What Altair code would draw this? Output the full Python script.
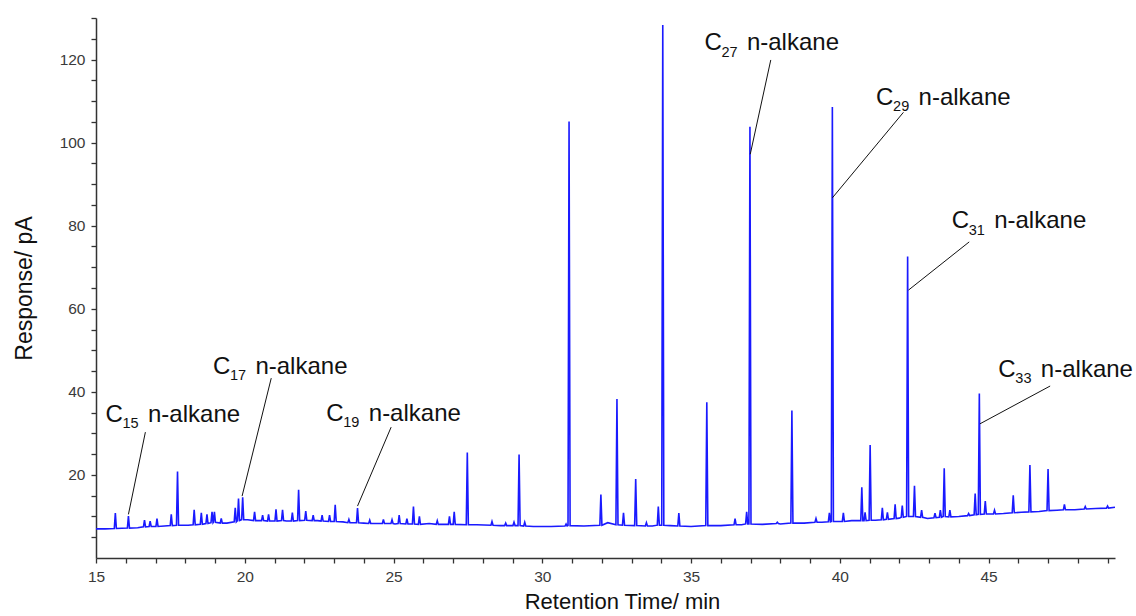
import altair as alt
import pandas as pd
import numpy as np

# ---- peaks (time / min, apex / pA, foot / pA)
peak_time = [15.65, 16.09, 16.63, 16.82, 17.05, 17.53, 17.74, 18.30, 18.54, 18.73,
             18.90, 18.98, 19.21, 19.68, 19.79, 19.93, 20.33, 20.60, 20.80, 21.05,
             21.27, 21.60, 21.81, 22.05, 22.30, 22.60, 22.85, 23.04, 23.50, 23.79,
             24.20, 24.66, 24.95, 25.19, 25.45, 25.67, 25.87, 26.47, 26.88, 27.04,
             27.48, 28.31, 28.77, 29.05, 29.22, 29.41, 30.80, 30.90, 31.97, 32.51,
             32.73, 33.14, 33.50, 33.90, 34.05, 34.59, 35.53, 36.48, 36.87, 36.98,
             37.90, 38.39, 39.20, 39.65, 39.75, 40.12, 40.74, 40.85, 41.02, 41.43,
             41.60, 41.86, 42.10, 42.28, 42.51, 42.75, 43.20, 43.38, 43.51, 43.70,
             44.33, 44.55, 44.69, 44.89, 45.20, 45.83, 46.39, 47.00, 47.55, 48.25,
             49.00]
peak_height = [10.8, 10.1, 9.1, 8.9, 9.5, 10.5, 20.8, 11.6, 10.9, 10.5,
               11.1, 11.1, 9.5, 12.1, 14.3, 14.6, 11.1, 10.3, 10.5, 11.7,
               11.6, 10.9, 16.4, 11.3, 10.3, 10.3, 10.3, 12.8, 9.3, 12.0,
               9.1, 9.3, 9.2, 10.3, 9.5, 12.4, 10.0, 9.0, 10.0, 11.1,
               25.4, 8.8, 8.4, 8.6, 24.9, 8.6, 8.2, 105.1, 15.3, 38.3,
               10.9, 19.0, 8.5, 12.4, 128.3, 10.8, 37.5, 9.5, 11.1, 103.8,
               8.6, 35.5, 9.5, 10.9, 108.6, 10.9, 17.0, 11.0, 27.2, 12.1,
               11.0, 12.9, 12.6, 72.6, 17.4, 11.5, 10.8, 11.5, 21.6, 11.5,
               10.7, 15.5, 39.6, 13.7, 11.5, 15.1, 22.4, 21.4, 12.9, 12.4,
               12.5]
peak_foot = [7.1, 7.2, 7.5, 7.6, 7.6, 7.8, 7.9, 8.0, 8.1, 8.3,
             8.5, 8.6, 8.4, 8.7, 9.0, 9.2, 9.0, 9.0, 8.9, 8.9,
             9.0, 8.9, 9.0, 9.1, 9.0, 8.9, 8.8, 8.8, 8.5, 8.5,
             8.3, 8.3, 8.3, 8.3, 8.2, 8.2, 8.1, 8.1, 8.1, 8.1,
             8.0, 7.9, 7.8, 7.8, 7.8, 7.7, 7.7, 7.8, 7.9, 8.0,
             7.9, 7.8, 7.7, 7.9, 7.9, 7.7, 7.8, 8.0, 8.2, 8.2,
             8.3, 8.4, 8.6, 8.7, 8.8, 8.8, 9.0, 9.0, 9.1, 9.2,
             9.3, 9.5, 9.8, 10.0, 10.0, 9.8, 9.7, 9.8, 10.0, 9.9,
             10.2, 10.4, 10.5, 10.6, 10.6, 10.9, 11.1, 11.4, 11.6, 11.8,
             12.0]

# ---- baseline between peaks
base_time = [15.0, 15.3, 16.4, 17.3, 18.1, 19.4, 20.1, 20.45, 21.4, 22.45,
             23.3, 24.0, 24.4, 25.05, 26.2, 27.8, 28.6, 29.7, 30.3, 31.4,
             32.2, 33.7, 34.3, 35.0, 36.0, 36.7, 37.4, 38.0, 38.8, 39.4,
             40.4, 41.2, 42.0, 42.95, 44.0, 45.5, 46.1, 46.7, 47.3, 47.9,
             48.6, 49.25]
base_value = [7.0, 7.0, 7.3, 7.7, 7.9, 8.4, 9.2, 9.0, 8.9, 9.0,
              8.7, 8.4, 8.3, 8.2, 8.3, 8.0, 7.8, 7.6, 7.6, 7.7,
              8.5, 7.7, 7.8, 7.6, 7.8, 8.0, 8.1, 8.2, 8.4, 8.6,
              9.0, 9.1, 9.6, 9.5, 10.0, 10.7, 11.0, 11.2, 11.5, 11.6,
              11.9, 12.2]

# ---- annotations
ann_sub = ["15", "17", "19", "27", "29", "31", "33"]
ann_time = [15.32, 18.93, 22.74, 35.45, 41.22, 43.76, 45.33]
ann_resp = [32.8, 44.4, 33.1, 122.2, 109.1, 79.4, 43.6]
lead_from_time = [16.66, 20.89, 24.92, 37.68, 42.14, 44.35, 47.07]
lead_from_resp = [30.3, 43.3, 31.5, 119.9, 107.3, 76.1, 41.4]
lead_to_time = [16.09, 19.91, 23.79, 36.99, 39.75, 42.31, 44.71]
lead_to_resp = [10.5, 14.9, 12.5, 97.2, 86.7, 64.5, 32.3]

HALF = 0.035
rows = []
for t, h, f in zip(peak_time, peak_height, peak_foot):
    rows += [(t - HALF, f), (t, h), (t + HALF, f)]
pt = np.array(peak_time)
for t, v in zip(base_time, base_value):
    if np.min(np.abs(pt - t)) > 2 * HALF:
        rows.append((t, v))
rows.sort()
trace = pd.DataFrame(rows, columns=["time", "resp"])

ann = pd.DataFrame({"sub": ann_sub, "time": ann_time, "resp": ann_resp,
                    "t1": lead_from_time, "r1": lead_from_resp,
                    "t2": lead_to_time, "r2": lead_to_resp})

FONT = "Liberation Sans"
xscale = alt.Scale(domain=[15, 49.25], nice=False, zero=False)
yscale = alt.Scale(domain=[0, 130], nice=False, zero=False)

xaxis = alt.Axis(values=list(range(15, 50)), tickCount=500, format="d",
                 labelExpr="datum.value % 5 == 0 ? datum.label : ''",
                 labelOverlap=False,
                 title="Retention Time/ min", titleFontSize=22, titleFont=FONT,
                 titleFontWeight="normal", titleColor="#111", titlePadding=7,
                 titleX=526, labelFontSize=15.5, labelFont=FONT, labelColor="#3a3a3a",
                 labelPadding=6, tickSize=5, tickColor="#333", domainColor="#333",
                 domainWidth=1.5, tickWidth=1.3, grid=False, labelFlush=False)
yaxis = alt.Axis(values=list(range(5, 131, 5)), tickCount=500, format="d",
                 labelExpr="datum.value % 20 == 0 ? datum.label : ''",
                 labelOverlap=False,
                 title="Response/ pA", titleFontSize=23, titleFont=FONT,
                 titleFontWeight="normal", titleColor="#111", titlePadding=23,
                 labelFontSize=15.5, labelFont=FONT, labelColor="#3a3a3a",
                 labelPadding=6, tickSize=5, tickColor="#333", domainColor="#333",
                 domainWidth=1.5, tickWidth=1.3, grid=False, labelFlush=False)

line = alt.Chart(trace).mark_line(color="#1a1aff", strokeWidth=1.6).encode(
    x=alt.X("time:Q", scale=xscale, axis=xaxis),
    y=alt.Y("resp:Q", scale=yscale, axis=yaxis),
)

leaders = alt.Chart(ann).mark_rule(color="#111", strokeWidth=1).encode(
    x="t1:Q", y="r1:Q", x2="t2:Q", y2="r2:Q")

base_txt = alt.Chart(ann)
c_txt = base_txt.mark_text(text="C", align="left", baseline="alphabetic",
                           font=FONT, fontSize=24, color="#111").encode(
    x="time:Q", y="resp:Q")
sub_txt = base_txt.mark_text(align="left", baseline="alphabetic", dx=17, dy=6.5,
                             font=FONT, fontSize=14.5, color="#111").encode(
    x="time:Q", y="resp:Q", text="sub:N")
n_txt = base_txt.mark_text(text="n-alkane", align="left", baseline="alphabetic",
                           dx=42.5, font=FONT, fontSize=24, color="#111").encode(
    x="time:Q", y="resp:Q")

chart = alt.layer(line, leaders, c_txt, sub_txt, n_txt).properties(
    width=1019, height=540,
    padding={"left": 96, "top": 18, "right": 21, "bottom": 58},
    autosize=alt.AutoSizeParams(type="none"),
    background="white",
).configure_view(stroke=None)

chart.save("out.html", embed_options={"renderer": "svg", "actions": False})
